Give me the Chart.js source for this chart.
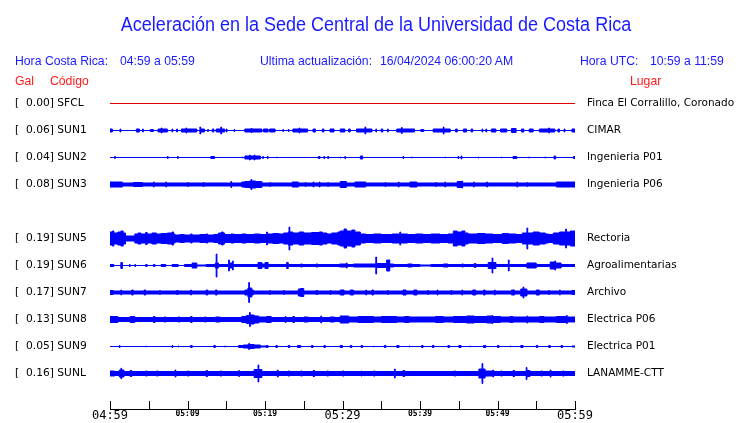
<!DOCTYPE html>
<html>
<head>
<meta charset="utf-8">
<script src="https://cdn.jsdelivr.net/npm/chart.js@4.4.1/dist/chart.umd.min.js"></script>
<style>
body { margin: 0; background: #fff; }
#wrap { position: relative; width: 740px; height: 423px; overflow: hidden; font-family: 'Liberation Sans', Arial, sans-serif; }
#wrap span { position: absolute; white-space: pre; line-height: 1; transform-origin: left center; }
.blue { color: #1a1aff; }
.red { color: #ff1a1a; }
.hdr { font-size: 13px; transform: scaleX(0.94); }
canvas { position: absolute; left: 0; top: 0; }
</style>
</head>
<body>
<div id="wrap">
  <canvas id="chart" width="740" height="423"></canvas>
  <span class="blue" style="left:375.5px; top:14px; font-size:20px; transform-origin:center; transform:translateX(-50%) scaleX(0.9);">Aceleración en la Sede Central de la Universidad de Costa Rica</span>
  <span class="blue hdr" style="left:15px; top:54px;">Hora Costa Rica:</span>
  <span class="blue hdr" style="left:120px; top:54px;">04:59 a 05:59</span>
  <span class="blue hdr" style="left:260px; top:54px;">Ultima actualización:</span>
  <span class="blue hdr" style="left:380px; top:54px;">16/04/2024 06:00:20 AM</span>
  <span class="blue hdr" style="left:580px; top:54px;">Hora UTC:</span>
  <span class="blue hdr" style="left:650px; top:54px;">10:59 a 11:59</span>
  <span class="red hdr" style="left:15px; top:74px;">Gal</span>
  <span class="red hdr" style="left:50px; top:74px;">Código</span>
  <span class="red hdr" style="left:630px; top:74px;">Lugar</span>
</div>
<script>
// stations, top to bottom (row 4 is left empty, like the original)
const codes  = ['SFCL', 'SUN1', 'SUN2', 'SUN3', 'SUN5', 'SUN6', 'SUN7', 'SUN8', 'SUN9', 'SUNL'];
const gals   = [0.00, 0.06, 0.04, 0.08, 0.19, 0.19, 0.17, 0.13, 0.05, 0.16];
const places = ['Finca El Corralillo, Coronado', 'CIMAR', 'Ingenieria P01', 'Ingenieria P06',
                'Rectoria', 'Agroalimentarias', 'Archivo', 'Electrica P06', 'Electrica P01', 'LANAMME-CTT'];
const rows   = [0, 1, 2, 3, 5, 6, 7, 8, 9, 10];
const timeLabels = ['04:59', '05:09', '05:19', '05:29', '05:39', '05:49', '05:59'];

// envelope of each trace: [minute since 04:59, half amplitude], each value held until the next point
const sfcl = [[0, 0], [60, 0]];
const sun1 = [[0,2],[0.3,0],[1.3,2],[1.4,0],[3.4,2],[3.8,0],[4.2,2],[4.3,0],[5.2,1.5],[5.6,0],[6.2,2],[6.6,3],[6.7,2],[7.4,0],
  [8.0,2],[8.1,0],[8.6,2],[8.7,0],[9.2,2],[9.8,3],[9.9,2],[11.2,0],[11.6,4],[11.7,2],[12.2,0],[12.6,1.5],[12.7,0],[13.2,2],
  [13.4,0],[13.7,2],[14.3,4],[14.4,2],[14.8,0],[15.0,2],[15.1,0],[16.0,1.5],[16.1,0],[17.4,2],[18.2,2.5],[18.3,2],[19.6,0],
  [19.8,2],[20.4,0],[20.6,2],[21.3,0],[22.3,1.5],[22.4,0],[23.0,1.5],[23.1,0],[23.6,2],[24.4,3],[24.5,2],[25.5,0],[26.2,2],
  [26.5,0],[27.4,2],[27.6,0],[28.4,2],[28.9,0],[29.7,2],[30.3,0],[30.8,2],[31.0,0],[31.8,2],[32.9,4],[33.0,2],[33.8,0],
  [34.3,2],[34.4,0],[35.0,2],[35.2,0],[35.8,2],[35.9,0],[37.0,2],[37.6,3.5],[37.7,2],[39.3,0],[40.1,1.5],[40.5,0],[41.7,2],
  [43.0,4],[43.1,2],[43.9,0],[44.6,2],[44.8,0],[45.6,2],[46.0,0],[46.6,2],[46.8,0],[48.0,2],[48.1,0],[48.5,2],[48.6,0],
  [49.2,2],[49.8,0],[50.4,2],[51.2,0],[51.8,2.5],[52.4,0],[53.1,2],[53.4,0],[54.1,2],[54.6,0],[55.4,2],[56.6,3],[56.7,2],
  [57.4,0],[57.8,2],[58.0,0],[58.6,2],[58.7,0],[59.6,2],[60,2]];
const sun2 = [[0,0],[0.6,1.5],[0.7,0],[7.4,1.5],[7.5,0],[8.7,1.5],[8.8,0],[13.0,1.5],[13.5,0],[17.0,1],[17.1,0],[17.4,2],
  [18.0,3],[18.1,2],[18.6,3],[18.7,2],[19.4,0],[19.7,1.5],[19.8,0],[20.3,1.5],[20.4,0],[21.5,1],[21.6,0],[26.9,1.5],[27.1,0],
  [27.6,1.5],[27.7,0],[28.1,1.5],[28.2,0],[29.7,1],[29.8,0],[30.3,1.5],[30.4,0],[32.3,2],[32.6,0],[37.8,1.5],[37.9,0],
  [38.9,1],[39.0,0],[43.2,1],[43.3,0],[44.9,1.5],[45.0,0],[45.3,2],[45.4,0],[47.5,1],[47.6,0],[50.5,1],[50.6,0],[52.0,1.5],
  [52.5,0],[54.0,1],[54.1,0],[56.1,1],[56.2,0],[57.3,2],[57.5,0],[59.8,1.5],[60,0]];
const sun3 = [[0,3],[1.6,2],[3.0,2.5],[4.2,2],[5.6,3],[5.7,2],[7.2,3],[7.3,2],[10.0,2.5],[10.1,2],[12.0,2.5],[12.1,2],
  [15.6,3.5],[15.7,2],[17.0,3],[17.4,3.5],[18.0,4],[18.2,5.5],[18.3,4],[18.8,3.5],[19.6,2],[20.6,2.5],[20.7,2],[23.5,3],
  [24.3,2],[25.2,2.5],[25.3,2],[26.2,3],[26.3,2],[27.0,3],[27.1,2],[28.1,2.5],[28.2,2],[29.7,3.5],[30.5,2],[31.6,3],[33.0,2],
  [35.5,2.5],[35.6,2],[37.2,3],[37.3,2],[38.7,3],[39.6,2],[42.0,2.5],[42.1,2],[43.2,3],[43.3,2],[44.8,3.5],[45.4,4],[45.5,2],
  [46.9,3],[47.0,2],[48.6,3],[48.7,2],[52.5,3],[52.6,2],[53.8,2.5],[53.9,2],[57.6,3],[60,3]];
const sun5 = [[0,7],[0.3,8],[0.5,6],[1.0,7],[1.4,8],[1.7,6],[2.0,3],[3.2,5],[3.6,6],[4.0,5],[4.6,6.5],[4.8,5],[5.4,6],
  [6.0,5],[6.6,5.5],[7.4,6],[8.0,7],[8.2,5],[8.4,4],[9.0,4.5],[9.6,4],[10.4,5],[10.6,4],[11.6,4.5],[12.4,5],[12.6,4],
  [13.4,4.5],[14.0,6],[14.4,7],[14.6,6],[14.8,4.5],[15.6,5],[16.0,4.5],[17.0,5],[17.6,4.5],[18.6,5],[19.4,4.5],[20.2,7],
  [20.3,5],[21.0,5.5],[21.8,5],[22.4,6],[23.0,7],[23.1,12],[23.2,7],[23.6,6],[24.4,7],[25.0,6],[26.0,6.5],[27.0,7],[27.4,6],
  [28.0,5],[28.6,6],[29.4,7],[29.7,8],[30.2,10],[30.5,8],[31.2,9],[31.6,7],[32.3,5],[33.0,4.5],[34.0,5],[35.0,4.5],[36.4,5],
  [37.4,7],[37.5,5],[38.4,4.5],[39.4,5],[40.4,4.5],[41.4,5],[42.6,4.5],[43.6,5],[44.3,8],[44.8,7],[45.4,8],[45.8,6],[46.2,5],
  [47.4,5.5],[48.4,5],[49.4,4.5],[50.6,5.5],[51.4,5],[52.4,4.5],[53.2,6],[53.8,11],[53.9,6],[54.6,7],[55.4,6],[56.2,5],
  [56.6,4.5],[57.2,6],[58.0,7],[58.8,10],[58.9,7],[59.4,8],[60,8]];
const sun6 = [[0,1.5],[0.5,0.5],[1.4,3.5],[1.6,0.5],[2.5,1.5],[2.6,0.5],[3.2,1.5],[3.3,0.5],[4.6,1.5],[4.8,0.5],[5.6,1.5],
  [5.8,0.5],[6.6,1.5],[7.2,0.5],[8.0,1.5],[8.8,0.5],[9.6,1.5],[10.6,3],[11.2,1],[12.4,1.5],[13.6,3],[13.7,12],[13.8,3],
  [14.0,1.5],[15.3,6],[15.4,3],[15.8,5],[15.9,1.5],[19.1,3.5],[19.6,2],[20.0,3.5],[20.4,1.5],[22.8,3.5],[23.0,1.5],[24.6,2],
  [24.8,1.5],[26.6,2],[26.8,1.5],[29.6,2],[30.5,3],[30.6,1.5],[31.4,2],[33.2,2],[34.3,9],[34.4,2.5],[35.7,6],[36.1,2],
  [36.6,1.5],[38.4,2],[39.0,1.5],[40.0,1],[41.4,1.5],[43.0,2],[43.6,1.5],[45.4,2],[45.6,1.5],[47.0,2.5],[47.2,1.5],[48.8,3.5],
  [49.3,8],[49.4,3.5],[49.8,1.5],[51.4,6],[51.5,1.5],[53.8,3],[55.0,1.5],[56.8,4],[57.4,5],[57.5,3],[58.2,1.5],[60,1.5]];
const sun7 = [[0,2.5],[0.4,2],[1.4,3],[1.5,2],[2.8,3],[3.0,2],[4.4,3],[4.6,2],[6.4,2.5],[6.5,2],[8.6,2.5],[8.8,2],[10.4,3],
  [10.5,2],[12.4,3],[12.6,2],[13.6,3],[13.8,2],[17.4,3],[17.8,5],[17.9,10.5],[18.0,5],[18.3,3],[18.5,2],[20.6,2.5],[20.7,2],
  [22.4,2.5],[22.5,2],[24.3,4],[24.6,4.5],[25.0,2],[26.6,2.5],[26.8,2],[28.4,2.5],[28.5,2],[29.7,3],[30.2,2],[31.0,3],[31.4,2],
  [33.0,3],[33.1,2],[33.8,3],[34.0,2],[35.8,2.5],[35.9,2],[37.8,3],[38.2,2],[39.2,3],[39.6,2],[41.0,2.5],[41.1,2],[42.2,3],
  [42.3,2],[44.0,2.5],[44.1,2],[45.4,3],[45.5,2],[46.8,3],[47.2,2],[48.2,3],[48.4,2],[49.6,3],[49.7,2],[51.8,3],[52.2,2],
  [53.0,4],[53.3,6],[53.4,4],[53.8,2],[55.0,3],[55.4,2],[56.6,2.5],[56.7,2],[58.0,3],[58.1,2],[59.6,2.5],[60,2.5]];
const sun8 = [[0,3.5],[1.0,2.5],[2.6,3.5],[3.2,2.5],[5.6,3.5],[5.8,2.5],[7.0,3],[7.2,2.5],[8.8,3],[9.0,2.5],[10.4,3.5],
  [10.6,2.5],[12.2,3],[12.4,2.5],[13.6,3],[14.2,2.5],[17.0,3.5],[17.6,4.5],[18.0,7.5],[18.1,5],[18.6,4],[19.2,3],[20.2,3.5],
  [20.8,2.5],[22.6,3.5],[22.7,2.5],[23.6,3.5],[23.8,2.5],[25.0,3],[25.6,2.5],[27.2,4],[27.3,2.5],[28.4,3],[29.0,2.5],[29.7,4],
  [30.8,3],[32.0,3.5],[34.0,3],[35.0,3.5],[37.0,3],[38.0,3.5],[38.6,3],[40.0,3],[42.0,3.5],[43.0,3],[44.3,3.5],[46.0,4],
  [47.0,3.5],[48.6,4],[49.3,4.5],[49.4,3.5],[50.4,3],[51.6,3.5],[52.0,3],[53.8,4],[53.9,3],[55.4,3.5],[56.0,3],[57.6,3.5],
  [58.9,4.5],[59.0,3],[60,3]];
const sun9 = [[0,0.5],[1.2,1.5],[1.3,0.5],[4.6,1],[4.7,0.5],[8.0,1.5],[8.1,0.5],[8.8,1],[8.9,0.5],[10.4,1.5],[10.6,0.5],
  [13.4,1.5],[13.6,0.5],[14.8,1],[14.9,0.5],[16.6,1.5],[17.2,2],[17.8,2.5],[17.9,3.5],[18.0,2.5],[18.6,2],[19.4,1],[20.2,1.5],
  [20.4,0.5],[21.4,1.5],[21.6,0.5],[23.0,1.5],[23.2,0.5],[24.2,1.5],[24.6,0.5],[26.0,1.5],[26.2,0.5],[27.6,1.5],[27.8,0.5],
  [29.7,1.5],[30.0,0.5],[31.0,1.5],[31.2,0.5],[32.4,1.5],[32.6,0.5],[34.0,1],[34.1,0.5],[35.4,1.5],[35.6,0.5],[37.0,1.5],
  [37.3,0.5],[38.6,1],[38.7,0.5],[40.2,1.5],[40.4,0.5],[41.6,1.5],[41.8,0.5],[43.6,1.5],[43.8,0.5],[45.0,1.5],[45.3,0.5],
  [46.4,1],[46.5,0.5],[48.2,1.5],[48.5,0.5],[50.0,1.5],[50.2,0.5],[51.6,1],[51.7,0.5],[53.0,1.5],[53.3,0.5],[55.0,1.5],
  [55.2,0.5],[56.6,1.5],[56.8,0.5],[58.2,1.5],[58.4,0.5],[59.6,1],[60,0.5]];
const sunl = [[0,3],[0.6,2.5],[1.2,4],[1.4,5.7],[1.5,4],[1.8,2.5],[2.6,3.5],[2.8,2.5],[4.6,3],[4.8,2.5],[6.0,3],[6.2,2.5],
  [8.4,4],[8.5,2.5],[10.0,3],[10.2,2.5],[12.4,3.5],[12.6,2.5],[14.2,3],[14.4,2.5],[16.6,3.5],[16.7,2.5],[18.6,4.5],[19.1,9],
  [19.2,4.5],[19.6,2.5],[21.6,4],[21.7,2.5],[23.0,3],[23.2,2.5],[24.6,3],[24.8,2.5],[26.2,3.5],[26.4,2.5],[28.0,3],[28.2,2.5],
  [30.0,3],[30.2,2.5],[32.4,3],[32.5,2.5],[34.0,3],[34.2,2.5],[36.7,5],[36.8,2.5],[37.8,3.5],[38.0,2.5],[44.4,3],[44.6,2.5],
  [47.6,5],[48.0,10.5],[48.1,5],[48.4,3],[49.4,4],[49.5,2.5],[50.4,3],[50.6,2.5],[52.0,3.5],[52.2,2.5],[53.7,6.5],[53.8,3.5],
  [54.2,2.5],[55.6,3],[55.8,2.5],[56.8,4],[56.9,2.5],[58.4,3],[58.6,2.5],[60,2.5]];
const traces = [sfcl, sun1, sun2, sun3, sun5, sun6, sun7, sun8, sun9, sunl];

const GAP = 27;      // trace spacing in amplitude units
const BLUE = '#0000ff';
const RED = '#e00000';
const STROKE = 1;    // outline width, half of it taken off the envelope so bands keep their size

const datasets = [];
traces.forEach((pts, i) => {
    const off = rows[i] * GAP;
    const color = i === 0 ? RED : BLUE;
    const half = a => Math.max(a - STROKE / 2, 0);
    const common = {
        borderColor: color, backgroundColor: color, borderWidth: STROKE,
        pointRadius: 0, stepped: 'before', tension: 0, yAxisID: 'y'
    };
    datasets.push(Object.assign({}, common, {
        data: pts.map(p => ({ x: p[0], y: off - half(p[1]) })),
        fill: '+1'
    }));
    datasets.push(Object.assign({}, common, {
        data: pts.map(p => ({ x: p[0], y: off + half(p[1]) })),
        fill: false
    }));
});

const rowTicks = scale => { scale.ticks = rows.map(r => ({ value: r * GAP })); };
const rowIndex = v => rows.indexOf(Math.round(v / GAP));

// small upward tick marks on the time axis
const tickMarks = {
    id: 'tickMarks',
    afterDraw(chart) {
        const x = chart.scales.x;
        const ctx = chart.ctx;
        const bottom = chart.chartArea.bottom;
        ctx.save();
        ctx.strokeStyle = '#000';
        ctx.lineWidth = 1;
        x.ticks.forEach(t => {
            const px = Math.round(x.getPixelForValue(t.value)) + 0.5;
            ctx.beginPath();
            ctx.moveTo(px, bottom - 8);
            ctx.lineTo(px, bottom);
            ctx.stroke();
        });
        ctx.restore();
    }
};

new Chart(document.getElementById('chart'), {
    type: 'line',
    data: { datasets },
    plugins: [tickMarks],
    options: {
        responsive: false,
        animation: false,
        events: [],
        layout: { padding: { top: 76, left: 15, right: 0, bottom: 0 } },
        plugins: { legend: { display: false }, tooltip: { enabled: false } },
        scales: {
            x: {
                type: 'linear', min: 0, max: 60,
                afterFit: s => { s.height = 14; },
                border: { display: true, color: '#000', width: 1 },
                grid: { drawOnChartArea: false, drawTicks: false, color: '#000' },
                ticks: {
                    stepSize: 5, autoSkip: false, maxRotation: 0, padding: 0, color: '#000',
                    callback: v => (v % 10 === 0 ? timeLabels[v / 10] : ''),
                    font: ctx => (ctx.tick && ctx.tick.value % 30 === 0)
                        ? { family: 'DejaVu Sans Mono', size: 12 }
                        : { family: 'DejaVu Sans Mono', size: 8, weight: 'bold' }
                }
            },
            y: {
                type: 'linear', position: 'left', reverse: true, min: -27.5, max: 305.5,
                afterFit: s => { s.width = 95; },
                afterBuildTicks: rowTicks,
                border: { display: false },
                grid: { display: false, drawTicks: false },
                ticks: {
                    crossAlign: 'far', padding: 0, color: '#000', font: { family: 'DejaVu Sans', size: 10.7 },
                    callback: v => {
                        const i = rowIndex(v);
                        return '[' + gals[i].toFixed(2).padStart(6, ' ') + '] ' + codes[i];
                    }
                }
            },
            y2: {
                type: 'linear', position: 'right', reverse: true, min: -27.5, max: 305.5,
                afterFit: s => { s.width = 165; },
                afterBuildTicks: rowTicks,
                border: { display: false },
                grid: { display: false, drawTicks: true, tickLength: 12 },
                ticks: {
                    padding: 0, color: '#000', font: { family: 'DejaVu Sans', size: 10.5 },
                    callback: v => places[rowIndex(v)]
                }
            }
        }
    }
});
</script>
</body>
</html>
